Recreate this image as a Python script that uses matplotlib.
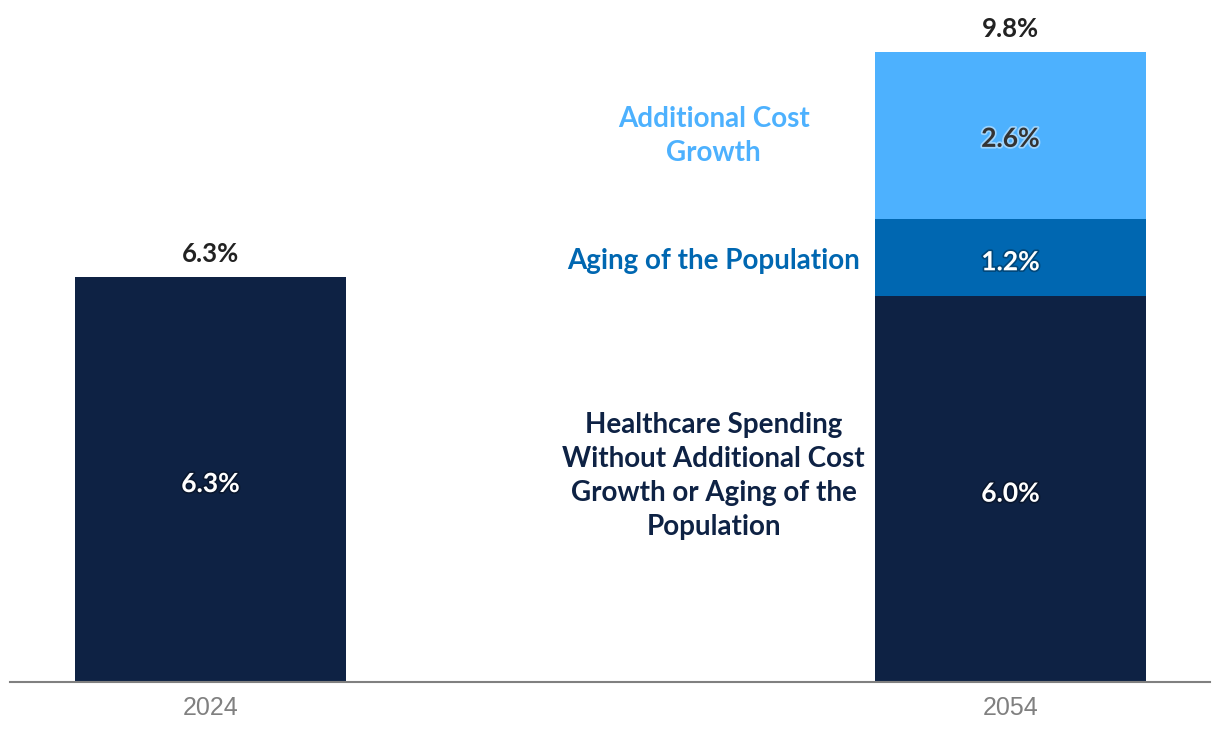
import matplotlib.pyplot as plt
import matplotlib.patheffects as pe

# Data
years = ['2024', '2054']
base = [6.3, 6.0]
aging = [0.0, 1.2]
additional = [0.0, 2.6]
totals = [6.3, 9.8]

navy = '#0e2244'
mid_blue = '#0067b1'
light_blue = '#4db1fe'

plt.rcParams['font.family'] = ['Lato', 'DejaVu Sans']

fig = plt.figure(figsize=(12.2, 7.4), dpi=100)
ax = fig.add_axes([10 / 1220, 1 - 682 / 740, 1200 / 1220, 682 / 740])

x = [0, 1]
w = 0.339
ax.bar(x, base, width=w, color=navy)
ax.bar(x[1], aging[1], bottom=base[1], width=w, color=mid_blue)
ax.bar(x[1], additional[1], bottom=base[1] + aging[1], width=w, color=light_blue)

ax.set_xlim(-0.2506, 1.2494)
ax.set_ylim(0, 10.61)

# totals above bars
for xi, t in zip(x, totals):
    ax.text(xi, t + 0.36, f'{t:.1f}%', ha='center', va='center', fontsize=18.5,
            fontweight='bold', color='#222222')

# segment labels
dark_glow = [pe.withStroke(linewidth=2.5, foreground='#000000', alpha=0.3)]
light_glow = [pe.withStroke(linewidth=2.5, foreground='#ffffff', alpha=0.45)]
ax.text(x[0], base[0] / 2 - 0.07, f'{base[0]:.1f}%', ha='center', va='center', fontsize=19,
        fontweight='bold', color='white', path_effects=dark_glow)
ax.text(x[1], base[1] / 2 - 0.07, f'{base[1]:.1f}%', ha='center', va='center', fontsize=19,
        fontweight='bold', color='white', path_effects=dark_glow)
ax.text(x[1], base[1] + aging[1] / 2 - 0.07, f'{aging[1]:.1f}%', ha='center', va='center', fontsize=19,
        fontweight='bold', color='white', path_effects=dark_glow)
ax.text(x[1], base[1] + aging[1] + additional[1] / 2 - 0.05, f'{additional[1]:.1f}%', ha='center',
        va='center', fontsize=19, fontweight='bold', color='#333333', path_effects=light_glow)

# series annotations left of the 2054 bar
ax.text(0.629, 8.5, 'Additional Cost\nGrowth', ha='center', va='center', fontsize=20,
        fontweight='bold', color=light_blue, linespacing=1.38)
ax.text(0.629, 6.55, 'Aging of the Population', ha='center', va='center', fontsize=20,
        fontweight='bold', color=mid_blue)
ax.text(0.629, 3.2, 'Healthcare Spending\nWithout Additional Cost\nGrowth or Aging of the\nPopulation',
        ha='center', va='center', fontsize=20, fontweight='bold', color=navy, linespacing=1.38)

for s in ['top', 'right', 'left']:
    ax.spines[s].set_visible(False)
ax.spines['bottom'].set_color('#808080')
ax.spines['bottom'].set_linewidth(1.5)
ax.set_yticks([])
ax.set_xticks(x)
ax.set_xticklabels(years, fontsize=18, color='#808080', family=['Liberation Sans', 'DejaVu Sans'])
ax.tick_params(axis='x', length=0, pad=10)

fig.savefig('out.png', dpi=100)
